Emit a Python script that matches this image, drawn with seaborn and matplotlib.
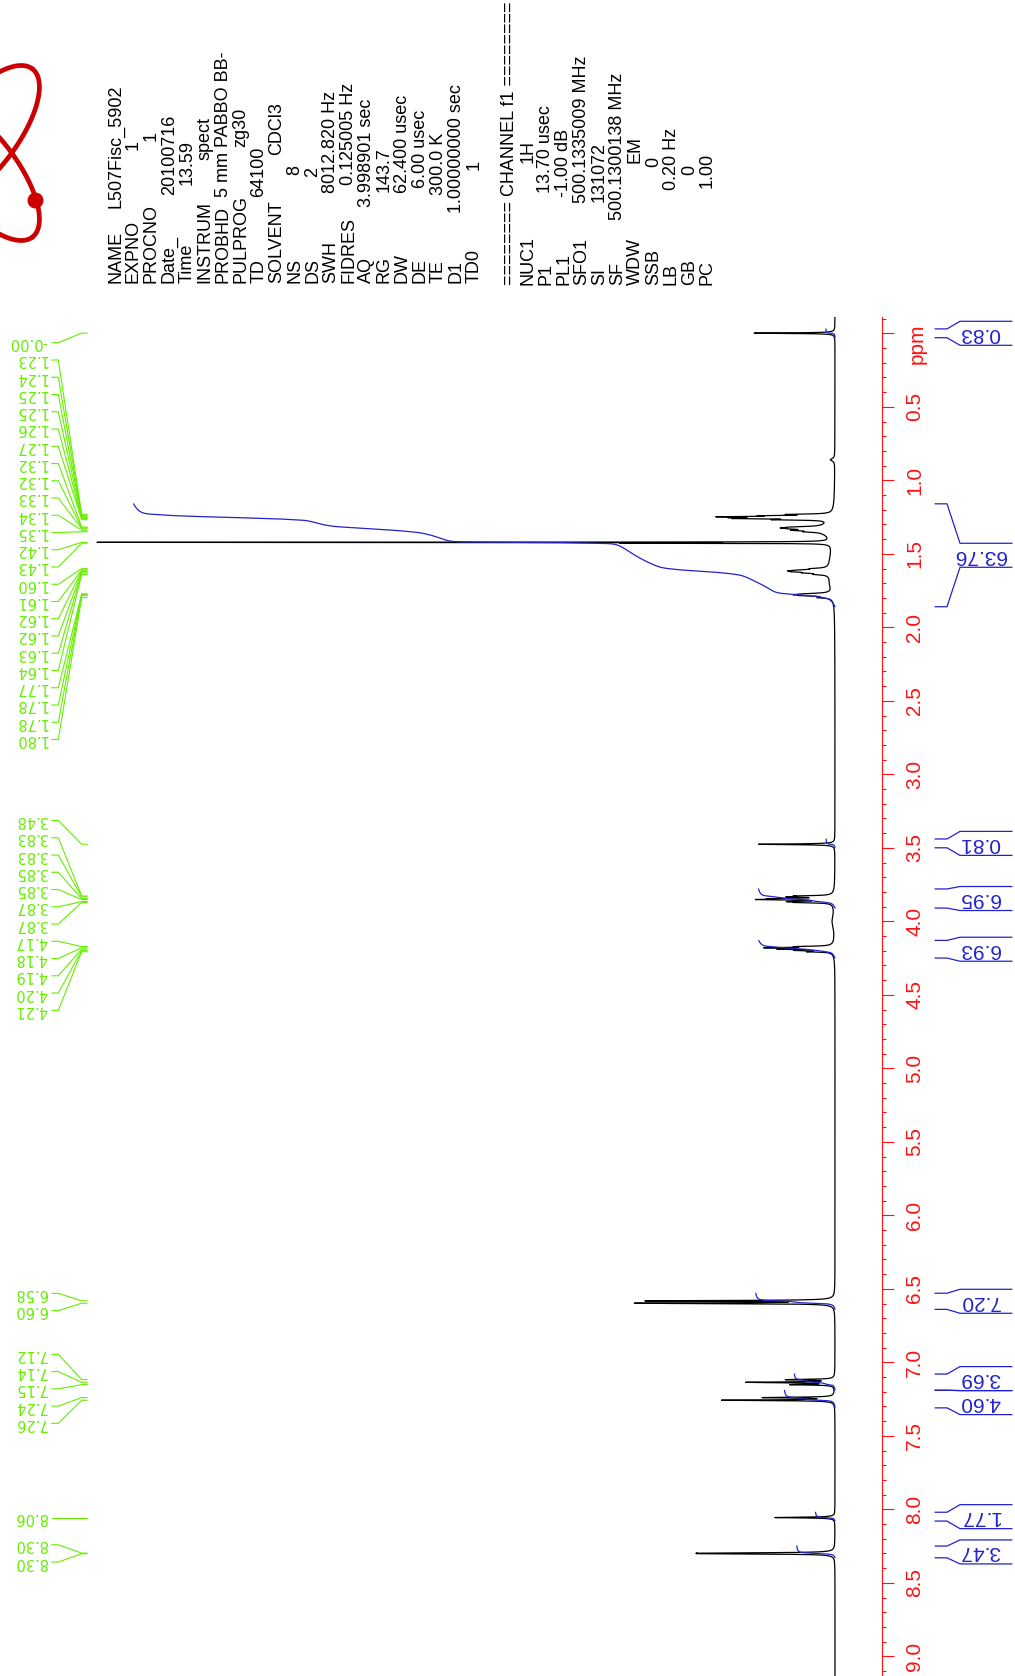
import numpy as np
import pandas as pd
import matplotlib
matplotlib.use("Agg")
import matplotlib.pyplot as plt
import seaborn as sns
from matplotlib.transforms import blended_transform_factory
from matplotlib.ticker import MultipleLocator, FuncFormatter

# ------------------------------------------------------------------ data
# spectral lines: position (ppm), height (tallest ~100), half width (ppm)
line_ppm = [-0.001, 0.86,
            1.232, 1.241, 1.248, 1.254, 1.260, 1.268,
            1.318, 1.324, 1.330, 1.340, 1.350, 1.335,
            1.422, 1.428, 1.55,
            1.601, 1.610, 1.616, 1.622, 1.630, 1.640, 1.62, 1.70,
            1.772, 1.778, 1.784, 1.798, 1.78,
            3.476,
            3.828, 3.834, 3.846, 3.852, 3.866, 3.872, 3.85, 4.00,
            4.172, 4.180, 4.189, 4.198, 4.207, 4.19,
            6.582, 6.598,
            7.118, 7.136, 7.152, 7.240, 7.258,
            8.056, 8.298, 8.302]
line_height = [11.0, 0.6,
               5.0, 7.0, 12.0, 9.0, 10.0, 6.0,
               3.0, 3.5, 2.5, 3.0, 1.8, 2.0,
               99.0, 25.0, 0.5,
               1.6, 2.5, 3.2, 3.0, 2.2, 1.4, 0.8, 0.4,
               2.6, 3.2, 2.8, 1.5, 0.6,
               10.4,
               4.0, 4.8, 6.5, 8.5, 4.8, 4.0, 0.5, 0.35,
               4.0, 8.0, 6.0, 4.0, 2.8, 0.5,
               25.0, 26.5,
               6.4, 11.8, 5.7, 9.5, 15.2,
               8.2, 13.5, 13.5]
line_width = [0.0025, 0.01,
              0.003, 0.003, 0.003, 0.003, 0.003, 0.003,
              0.004, 0.004, 0.004, 0.004, 0.004, 0.04,
              0.0012, 0.0012, 0.10,
              0.004, 0.004, 0.004, 0.004, 0.004, 0.004, 0.03, 0.04,
              0.004, 0.004, 0.004, 0.004, 0.025,
              0.003,
              0.003, 0.003, 0.003, 0.003, 0.003, 0.003, 0.03, 0.05,
              0.003, 0.003, 0.003, 0.003, 0.003, 0.03,
              0.003, 0.003,
              0.003, 0.003, 0.003, 0.003, 0.003,
              0.003, 0.003, 0.003]

# picked peaks (green labels)
peak_pick_ppm = [-0.001, 1.232, 1.241, 1.248, 1.254, 1.260, 1.268, 1.318, 1.324, 1.330,
                 1.340, 1.350, 1.422, 1.428, 1.601, 1.610, 1.616, 1.622, 1.630, 1.640,
                 1.772, 1.778, 1.784, 1.798,
                 3.476, 3.828, 3.834, 3.846, 3.852, 3.866, 3.872,
                 4.172, 4.180, 4.189, 4.198, 4.207,
                 6.582, 6.598, 7.118, 7.136, 7.152, 7.240, 7.258,
                 8.056, 8.298, 8.302]

# integrals
integral_value = [0.83, 63.76, 0.81, 6.95, 6.93, 7.20, 3.69, 4.60, 1.77, 3.47]
integral_from = [-0.03, 1.16, 3.44, 3.78, 4.13, 6.53, 7.08, 7.19, 8.02, 8.25]
integral_to = [0.03, 1.86, 3.50, 3.91, 4.25, 6.64, 7.19, 7.31, 8.08, 8.33]

# acquisition / processing parameters
acq_keys = ["NAME", "EXPNO", "PROCNO", "Date_", "Time", "INSTRUM", "PROBHD", "PULPROG",
            "TD", "SOLVENT", "NS", "DS", "SWH", "FIDRES", "AQ", "RG", "DW", "DE", "TE",
            "D1", "TD0"]
acq_values = ["L507Fisc_5902", "1", "1", "20100716", "13.59", "spect", "5 mm PABBO BB-",
              "zg30", "64100", "CDCl3", "8", "2", "8012.820 Hz", "0.125005 Hz",
              "3.998901 sec", "143.7", "62.400 usec", "6.00 usec", "300.0 K",
              "1.00000000 sec", "1"]
channel_title = "======== CHANNEL f1 ========"
proc_keys = ["NUC1", "P1", "PL1", "SFO1", "SI", "SF", "WDW", "SSB", "LB", "GB", "PC"]
proc_values = ["1H", "13.70 usec", "-1.00 dB", "500.1335009 MHz", "131072",
               "500.1300138 MHz", "EM", "0", "0.20 Hz", "0", "1.00"]

# ------------------------------------------------------------------ layout
W, H = 1015, 1676
PX_PER_PPM = 147.0
Y_PPM0 = 333.3          # pixel row of 0 ppm
AX_TOP = 316.7          # pixel row where spectrum axis starts
SPINE_X = 882.0
BASE_X = 835.0
PX_PER_UNIT = 7.34
INT_PX = 11.0           # pixels per integral unit
acq_value_y = [208, 150, 141, 195, 185, 160, 197, 147, 197, 155, 175, 177, 193, 185,
               207, 192, 193, 188, 195, 213, 170]
proc_value_y = [163, 193, 197, 203, 202, 220, 163, 167, 190, 175, 188]

GREEN = "#66EE00"
BLUE = "#2222CC"
RED = "#FF1111"

sns.set_style("white")
plt.rcParams["font.family"] = ["Liberation Sans", "DejaVu Sans"]

fig = plt.figure(figsize=(W / 100, H / 100), dpi=100)
bg = fig.add_axes([0, 0, 1, 1], zorder=0)
bg.set_xlim(0, W)
bg.set_ylim(H, 0)
bg.axis("off")

ax = fig.add_axes([0, 0, SPINE_X / W, 1 - AX_TOP / H], zorder=1)
ax.patch.set_visible(False)

top_ppm = (AX_TOP - Y_PPM0) / PX_PER_PPM
bot_ppm = (H - Y_PPM0) / PX_PER_PPM

# ------------------------------------------------------------------ spectrum
ppm = np.arange(top_ppm, bot_ppm, 0.00015)
inten = np.zeros_like(ppm)
for p, h, w in zip(line_ppm, line_height, line_width):
    inten += h / (1.0 + ((ppm - p) / w) ** 2)
spec = pd.DataFrame({"ppm": ppm, "I": inten})
sns.lineplot(data=spec, x="I", y="ppm", orient="y", sort=False, estimator=None,
             color="black", lw=0.9, ax=ax)

# integral curves
int_unit = INT_PX / PX_PER_UNIT
for v, a, b in zip(integral_value, integral_from, integral_to):
    m = (ppm >= a) & (ppm <= b)
    seg = inten[m]
    cum = np.cumsum(seg[::-1])[::-1]
    cum = cum / cum[0] * v * int_unit
    d = pd.DataFrame({"ppm": ppm[m], "I": cum})
    sns.lineplot(data=d, x="I", y="ppm", orient="y", sort=False, estimator=None,
                 color=BLUE, lw=0.9, ax=ax)

ax.set_xlim(BASE_X / PX_PER_UNIT, -(SPINE_X - BASE_X) / PX_PER_UNIT)
ax.set_ylim(bot_ppm, top_ppm)
ax.set_xlabel("")
ax.set_ylabel("")
ax.set_xticks([])
for s in ["left", "top", "bottom"]:
    ax.spines[s].set_visible(False)
ax.spines["right"].set_color(RED)
ax.spines["right"].set_linewidth(0.8)
ax.yaxis.tick_right()
ax.yaxis.set_major_locator(MultipleLocator(0.5))
ax.yaxis.set_minor_locator(MultipleLocator(0.1))
ax.yaxis.set_major_formatter(FuncFormatter(lambda v, pos: "" if abs(v) < 1e-9 else f"{v:.1f}"))
ax.tick_params(axis="y", which="major", direction="out", length=8.6, width=0.8,
               color=RED, labelcolor=RED, labelsize=15, labelrotation=90, pad=8)
ax.tick_params(axis="y", which="minor", direction="out", length=2.6, width=0.8, color=RED)
for lbl in ax.get_yticklabels():
    lbl.set_va("center")

tr = blended_transform_factory(fig.transFigure, ax.transData)
ax.text(923.0 / W, (343.3 - Y_PPM0) / PX_PER_PPM, "ppm", transform=tr, rotation=90,
        rotation_mode="anchor", ha="center", va="baseline", color=RED, fontsize=15,
        clip_on=False)


def spread(centers, gap):
    centers = np.asarray(centers, float)
    order = np.argsort(centers, kind="stable")
    c = centers[order]
    clusters = [[i] for i in range(len(c))]

    def place(cl):
        n = len(cl)
        return c[cl].mean() + (np.arange(n) - (n - 1) / 2) * gap

    changed = True
    while changed:
        changed = False
        for k in range(len(clusters) - 1):
            if place(clusters[k + 1])[0] - place(clusters[k])[-1] < gap - 1e-9:
                clusters[k] = clusters[k] + clusters[k + 1]
                del clusters[k + 1]
                changed = True
                break
    pos = np.empty(len(c))
    for cl in clusters:
        pos[cl] = place(cl)
    out = np.empty(len(c))
    out[order] = pos
    return out


# ------------------------------------------------------------------ peak labels
LABEL_GAP = 17.25 / PX_PER_PPM
LABEL_TOP = (342.7 - Y_PPM0) / PX_PER_PPM
lab_pos = spread(peak_pick_ppm, LABEL_GAP)
order = np.argsort(peak_pick_ppm, kind="stable")
prev = -1e9
for i in order:
    lab_pos[i] = max(lab_pos[i], LABEL_TOP, prev + LABEL_GAP * 0.98)
    prev = lab_pos[i]
for p, yl in zip(peak_pick_ppm, lab_pos):
    ax.plot(np.array([51.7, 58.3, 81.7, 87.3]) / W, [yl, yl, p, p], transform=tr,
            color=GREEN, lw=0.8, clip_on=False)
    ax.text(47.0 / W, yl, f"{p:.2f}", transform=tr, rotation=180, ha="right", va="center",
            color=GREEN, fontsize=10.5, family=["DejaVu Sans"], clip_on=False)

# ------------------------------------------------------------------ integral brackets
BOX = 12.0 / PX_PER_PPM
mids = [(a + b) / 2 for a, b in zip(integral_from, integral_to)]
int_pos = spread(mids, 2 * BOX)
for v, a, b, c in zip(integral_value, integral_from, integral_to, int_pos):
    xs = np.array([935.0, 947.0, 960.0, 1012.0]) / W
    ax.plot(xs, [a, a, c - BOX, c - BOX], transform=tr, color=BLUE, lw=0.9, clip_on=False)
    ax.plot(xs, [b, b, c + BOX, c + BOX], transform=tr, color=BLUE, lw=0.9, clip_on=False)
    ax.text(980.0 / W, c, f"{v:.2f}", transform=tr, rotation=180, ha="center", va="center",
            color=BLUE, fontsize=15, clip_on=False)

# ------------------------------------------------------------------ parameter block
LINE_DX = 17.93
X0 = 120.0
KEY_Y = 283.0
for i, (k, v, vy) in enumerate(zip(acq_keys, acq_values, acq_value_y)):
    x = X0 + LINE_DX * i
    fig.text(x / W, 1 - KEY_Y / H, k, rotation=90, rotation_mode="anchor",
             ha="left", va="baseline", fontsize=13, color="black")
    fig.text(x / W, 1 - vy / H, v, rotation=90, rotation_mode="anchor",
             ha="left", va="baseline", fontsize=13, color="black")
x = X0 + LINE_DX * 22
fig.text(x / W, 1 - 285.0 / H, channel_title, rotation=90, rotation_mode="anchor",
         ha="left", va="baseline", fontsize=13, color="black")
for j, (k, v, vy) in enumerate(zip(proc_keys, proc_values, proc_value_y)):
    x = X0 + LINE_DX * (23 + j)
    fig.text(x / W, 1 - 285.0 / H, k, rotation=90, rotation_mode="anchor",
             ha="left", va="baseline", fontsize=13, color="black")
    fig.text(x / W, 1 - vy / H, v, rotation=90, rotation_mode="anchor",
             ha="left", va="baseline", fontsize=13, color="black")

# ------------------------------------------------------------------ logo
t = np.linspace(0, 2 * np.pi, 400)
for cy, sgn in [(138.0, -1), (168.0, 1)]:
    u = np.array([0.62, 0.784 * sgn])
    vv = np.array([0.784, -0.62 * sgn])
    ex = -22 + 88 * np.cos(t) * u[0] + 36 * np.sin(t) * vv[0]
    ey = cy + 88 * np.cos(t) * u[1] + 36 * np.sin(t) * vv[1]
    bg.plot(ex, ey, color="#CC0000", lw=3.4, solid_capstyle="round")
bg.scatter([35], [200], s=110, color="#CC0000", zorder=3)

fig.savefig("out.png", dpi=100, facecolor="white")
